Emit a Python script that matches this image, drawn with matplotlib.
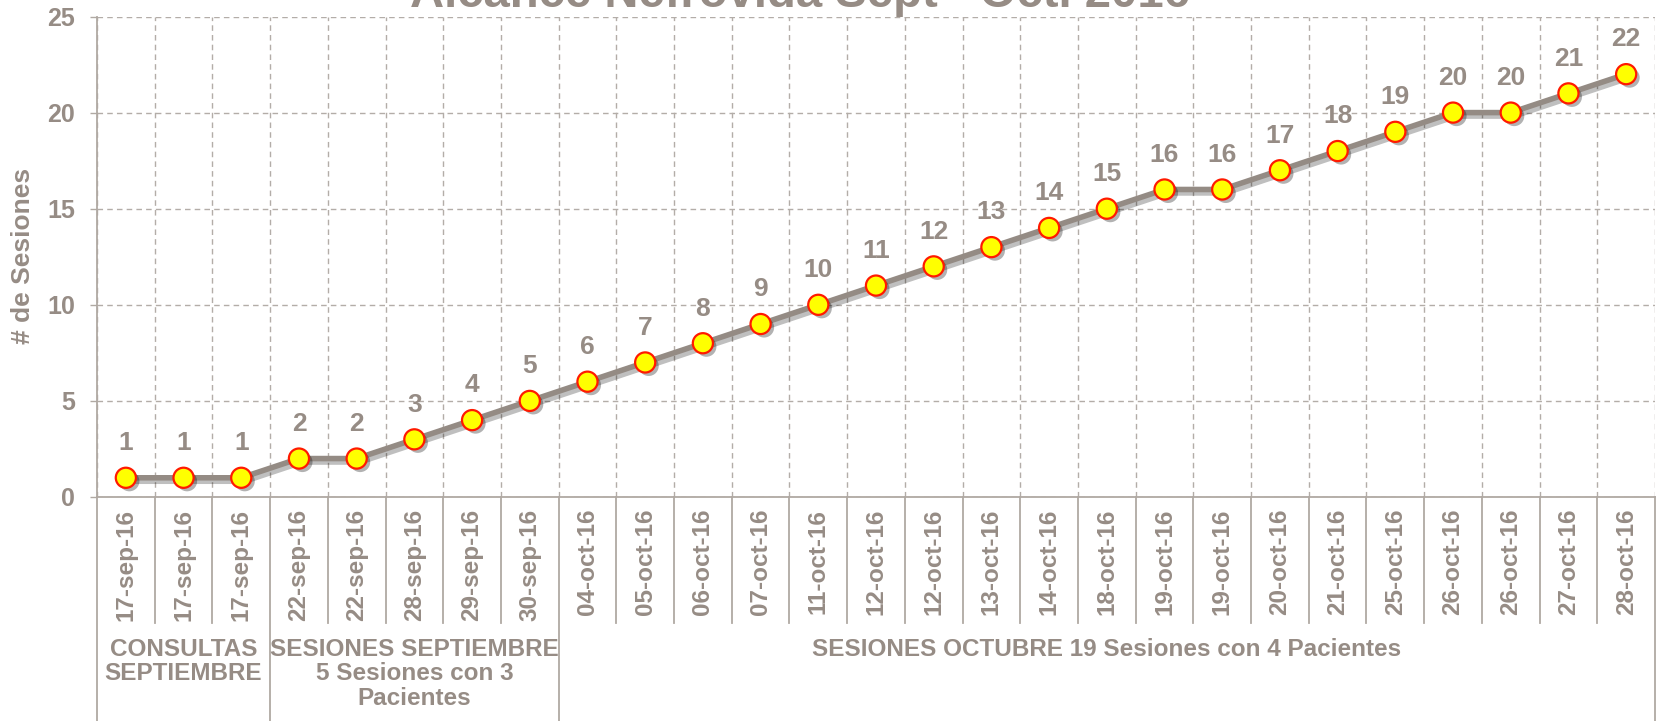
import numpy as np
import matplotlib
matplotlib.use('Agg')
import matplotlib.pyplot as plt
import matplotlib.patheffects as pe
from matplotlib.transforms import blended_transform_factory

plt.rcParams['font.family'] = ['Liberation Sans', 'DejaVu Sans']

# Datos
fechas = ['17-sep-16', '17-sep-16', '17-sep-16', '22-sep-16', '22-sep-16',
          '28-sep-16', '29-sep-16', '30-sep-16', '04-oct-16', '05-oct-16',
          '06-oct-16', '07-oct-16', '11-oct-16', '12-oct-16', '12-oct-16',
          '13-oct-16', '14-oct-16', '18-oct-16', '19-oct-16', '19-oct-16',
          '20-oct-16', '21-oct-16', '25-oct-16', '26-oct-16', '26-oct-16',
          '27-oct-16', '28-oct-16']
sesiones = [1, 1, 1, 2, 2, 3, 4, 5, 6, 7, 8, 9, 10, 11, 12, 13, 14, 15, 16, 16,
            17, 18, 19, 20, 20, 21, 22]
grupos = ['CONSULTAS\nSEPTIEMBRE',
          'SESIONES SEPTIEMBRE\n5 Sesiones con 3\nPacientes',
          'SESIONES OCTUBRE 19 Sesiones con 4 Pacientes']
grupo_tamanos = [3, 5, 19]
titulo = 'Alcance Nefrovida Sept - Oct. 2016'

TXT = '#968C85'
LINEA = '#948B84'
GRID = '#B3ADA8'
EJE = '#B0A9A3'

W, H = 1662, 721
fig = plt.figure(figsize=(W / 100, H / 100), dpi=100)
ax = fig.add_axes([97 / W, 1 - 497 / H, 1558 / W, (497 - 16.5) / H])

x = np.arange(len(sesiones))

# linea con sombra
ax.plot(x, sesiones, color=LINEA, lw=4, zorder=3, solid_capstyle='round',
        path_effects=[pe.SimpleLineShadow(offset=(2.5, -2.5), shadow_color='k', alpha=0.25),
                      pe.Normal()])
ax.plot(x, sesiones, ls='none', marker='o', ms=14.5, mfc='#FFFF00', mec='#FF1A00',
        mew=1.6, zorder=4,
        path_effects=[pe.SimplePatchShadow(offset=(2.5, -2.5), shadow_rgbFace='k', alpha=0.3),
                      pe.Normal()])

for xi, v in zip(x, sesiones):
    ax.annotate(str(v), (xi, v), xytext=(0, 25), textcoords='offset points',
                ha='center', va='center', fontsize=19, fontweight='bold', color=TXT)

ax.set_xlim(-0.5, len(sesiones) - 0.5)
ax.set_ylim(0, 25)
ax.set_yticks(range(0, 26, 5))
ax.set_xticks(x)
ax.set_xticklabels(fechas, rotation=90, ha='center', va='top')
ax.set_xticks(np.arange(-0.5, len(sesiones), 1), minor=True)

ax.tick_params(axis='x', which='both', length=0, pad=8.5, labelsize=17.5,
               labelcolor=TXT)
ax.tick_params(axis='y', length=5, width=1, color=EJE, pad=11, labelsize=18,
               labelcolor=TXT)
for lab in ax.get_xticklabels() + ax.get_yticklabels():
    lab.set_fontweight('bold')

ax.grid(axis='y', which='major', ls=(0, (4, 3)), color=GRID, lw=1)
ax.grid(axis='x', which='minor', ls=(0, (4, 3)), color=GRID, lw=1)
ax.set_axisbelow(True)

for s in ['top', 'right']:
    ax.spines[s].set_visible(False)
for s in ['left', 'bottom']:
    ax.spines[s].set_color(EJE)
    ax.spines[s].set_linewidth(1.3)

# separadores bajo el eje
tr = blended_transform_factory(ax.transData, fig.transFigure)
bordes = np.cumsum([0] + grupo_tamanos)
for b in range(len(sesiones) + 1):
    y_fin = 0 if b in bordes else 1 - 623 / H
    ax.plot([b - 0.5, b - 0.5], [1 - 497 / H, y_fin], color=EJE, lw=1.3,
            transform=tr, clip_on=False)

for i, g in enumerate(grupos):
    cx = (bordes[i] + bordes[i + 1]) / 2 - 0.5
    ax.text(cx, 1 - 638 / H, g, transform=tr, ha='center', va='top',
            multialignment='center', fontsize=17.5, fontweight='bold', color=TXT,
            linespacing=1.08)

fig.text(23 / W, 1 - 256 / H, '# de Sesiones', rotation=90, ha='center',
         va='center', fontsize=19, fontweight='bold', color=TXT)
fig.text(800 / W, 1 - 7 / H, titulo, ha='center', va='baseline', fontsize=34,
         fontweight='bold', color=TXT)

fig.savefig('out.png', dpi=100)
